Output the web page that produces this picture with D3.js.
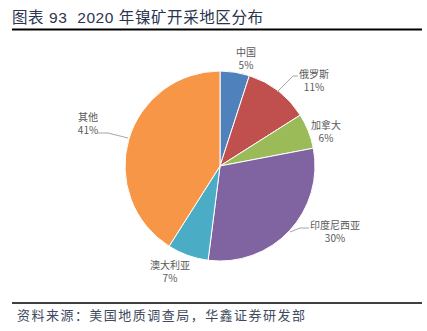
<!DOCTYPE html>
<html><head><meta charset="utf-8">
<script src="https://cdn.jsdelivr.net/npm/d3@7/dist/d3.min.js"></script>
<style>body{margin:0;background:#fff;}svg{display:block;}</style>
</head><body>
<script>
const categories = ["中国","俄罗斯","加拿大","印度尼西亚","澳大利亚","其他"];
const values = [5,11,6,30,7,41];
const colors = ["#4F81BD","#C0504D","#9BBB59","#8064A2","#4BACC6","#F79646"];
const labelPos = [[246,52],[314,74],[326,125],[335,225],[170,265],[88,117]];
const leaders = [null,[[277,92],[293,76],[298,76]],null,[[290,232],[300,228],[309,228]],null,[[98,133],[108,133],[128,138]]];

const W=427,H=331;
const svg=d3.select("body").append("svg").attr("width",W).attr("height",H);
const font="'Noto Sans CJK SC', 'Noto Sans', sans-serif";
const tfont="'Liberation Sans', 'Noto Sans CJK SC', sans-serif";

svg.append("text").attr("x",12).attr("y",23).attr("font-family",tfont).attr("font-size",15.5)
  .style("white-space","pre")
  .attr("fill","#2a3550").attr("textLength",251).attr("lengthAdjust","spacing").text("图表 93  2020 年镍矿开采地区分布");
svg.append("line").attr("x1",12).attr("x2",422).attr("y1",29.5).attr("y2",29.5).attr("stroke","#000").attr("stroke-width",2);
svg.append("line").attr("x1",12).attr("x2",422).attr("y1",303).attr("y2",303).attr("stroke","#000").attr("stroke-width",1.5);
svg.append("text").attr("x",17).attr("y",320).attr("font-family",font).attr("font-size",13)
  .attr("fill","#404a5e").attr("textLength",288).attr("lengthAdjust","spacing").text("资料来源：美国地质调查局，华鑫证券研发部");

const cx=220,cy=166,r=95;
const pie=d3.pie().sort(null).value(d=>d)(values);
const arc=d3.arc().innerRadius(0).outerRadius(r);
const g=svg.append("g").attr("transform",`translate(${cx},${cy})`);
g.selectAll("path").data(pie).join("path").attr("d",arc)
  .attr("fill",(d,i)=>colors[i]).attr("stroke","#fff").attr("stroke-width",1);

const line=d3.line();
leaders.forEach(l=>{ if(l) svg.append("path").attr("d",line(l)).attr("fill","none").attr("stroke","#a6a6a6").attr("stroke-width",1);});

categories.forEach((c,i)=>{
  const [x,y]=labelPos[i];
  const t=svg.append("text").attr("text-anchor","middle").attr("font-family",font).attr("font-size",10).attr("fill","#595959");
  t.append("tspan").attr("x",x).attr("y",y+3.5).text(c);
  t.append("tspan").attr("x",x).attr("y",y+17).text(values[i]+"%");
});
</script>
</body></html>
